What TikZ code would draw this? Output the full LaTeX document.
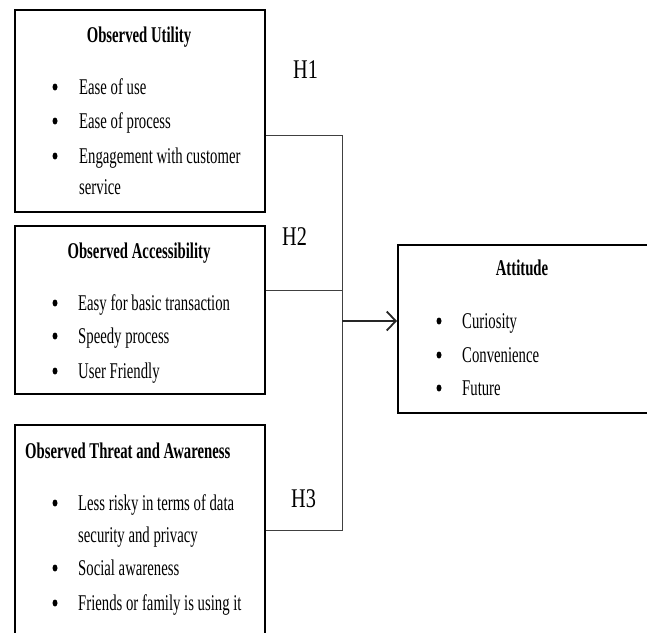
\documentclass[tikz,border=0pt]{standalone}
\usepackage{fontspec}
\setmainfont[FakeStretch=0.655]{Liberation Serif}
\newfontfamily\hfont[FakeStretch=0.75]{Liberation Serif}
\usetikzlibrary{arrows.meta,shapes.geometric}
\begin{document}
\begin{tikzpicture}[x=1pt,y=-1pt,
  box/.style={draw=black, line width=1.8pt, anchor=north west, inner sep=0pt},
  conn/.style={draw=black!75, line width=0.9pt},
  arr/.style={draw=black!85, line width=2pt, -{Straight Barb[length=9pt,width=19pt,line width=1.8pt]}},
  txt/.style={anchor=base west, inner sep=0pt, font=\fontsize{22.5}{26}\selectfont},
  ttl/.style={anchor=base, inner sep=0pt, font=\fontsize{22.5}{26}\selectfont\bfseries},
  ttlw/.style={anchor=base west, inner sep=0pt, font=\fontsize{22.5}{26}\selectfont\bfseries},
  bul/.style={fill=black, draw=none, ellipse, inner sep=0pt, minimum width=5pt, minimum height=7pt},
  hyp/.style={anchor=base west, inner sep=0pt, font=\fontsize{27}{30}\selectfont\hfont}]
\useasboundingbox (0,0) rectangle (647,632);
\clip (0,0) rectangle (647,632);
% boxes
\node[box, minimum width=250pt, minimum height=202pt] (util) at (14,9) {};
\node[box, minimum width=250pt, minimum height=168pt] (acc) at (14,225) {};
\node[box, minimum width=250pt, minimum height=230pt] (thr) at (14,424) {};
\node[box, minimum width=250pt, minimum height=168pt] (att) at (397,244) {};
% box 1
\node[ttl] (t1) at (139,42) {Observed Utility};
\node[txt] (l11) at (79,94) {Ease of use};
\node[txt] (l12) at (79,128) {Ease of process};
\node[txt] (l13) at (79,163) {Engagement with customer};
\node[txt] (l14) at (79,194) {service};
% box 2
\node[ttl] (t2) at (139,258) {Observed Accessibility};
\node[txt] (l21) at (78,310) {Easy for basic transaction};
\node[txt] (l22) at (78,343) {Speedy process};
\node[txt] (l23) at (78,378) {User Friendly};
% box 3
\node[ttlw] (t3) at (25,458) {Observed Threat and Awareness};
\node[txt] (l31) at (78,510) {Less risky in terms of data};
\node[txt] (l32) at (78,542) {security and privacy};
\node[txt] (l33) at (78,575) {Social awareness};
\node[txt] (l34) at (78,610) {Friends or family is using it};
% attitude
\node[ttl] (t4) at (522,275) {Attitude};
\node[txt] (l41) at (462,328) {Curiosity};
\node[txt] (l42) at (462,362) {Convenience};
\node[txt] (l43) at (462,395) {Future};
% bullets
\foreach \n/\x/\y in {b11/55/94, b12/55/128, b13/55/163, b21/55/310, b22/55/343, b23/55/378,
                      b31/55/510, b33/55/575, b34/55/610, b41/439/328, b42/439/362, b43/439/395}
  \node[bul] (\n) at (\x,\y-7) {};
% hypotheses
\node[hyp] (h1) at (293,78) {H1};
\node[hyp] (h2) at (282,245) {H2};
\node[hyp] (h3) at (291,507) {H3};
% connectors
\coordinate (j1) at (342,135);
\coordinate (j2) at (342,290);
\coordinate (j3) at (342,530);
\coordinate (jm) at (342,321);
\draw[conn] (util.east |- j1) -- (j1) -- (j3) -- (thr.east |- j3);
\draw[conn] (acc.east |- j2) -- (j2);
\draw[arr] (jm) -- (att.west |- jm);
\end{tikzpicture}
\end{document}
